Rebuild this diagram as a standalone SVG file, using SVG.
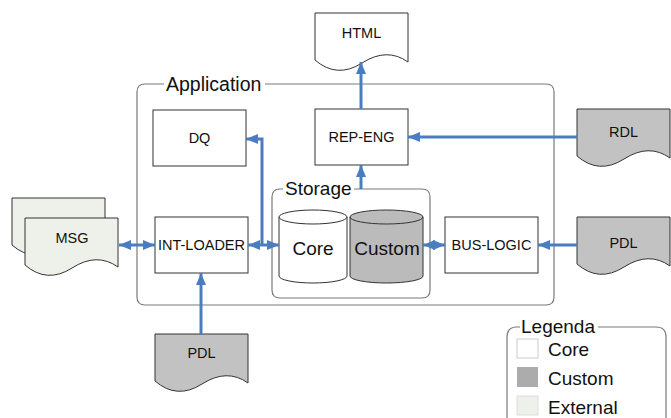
<svg xmlns="http://www.w3.org/2000/svg" width="671" height="418" viewBox="0 0 671 418">
<style>
.frame{fill:none;stroke:#7a7a7a;stroke-width:1.2}
.box{fill:#fff;stroke:#333;stroke-width:1}
.doc{stroke:#333;stroke-width:1}
.ext{fill:#eef1ea}
.cus{fill:#c2c2c2}
.t{font-family:"Liberation Sans",Arial,sans-serif;font-size:14.5px;fill:#111;text-anchor:middle}
.big{font-family:"Liberation Sans",Arial,sans-serif;font-size:19px;fill:#111}
.cyl{font-family:"Liberation Sans",Arial,sans-serif;font-size:19px;fill:#111;text-anchor:middle}
.c{fill:none;stroke:#4a7cc2;stroke-width:3}
</style>
<defs>
<marker id="ah" markerUnits="userSpaceOnUse" markerWidth="13" markerHeight="11" refX="12" refY="5" orient="auto-start-reverse" viewBox="0 0 13 11">
<path d="M0,0 L12,5 L0,10 z" fill="#4a7cc2"/>
</marker>
<path id="docshape" d="M0,0 H93 V49 Q72,34 47,50 Q22,66 0,47 Z"/>
</defs>

<g id="application">
<path class="frame" d="M164,84 H145 Q137,84 137,92 V297 Q137,305 145,305 H546 Q554,305 554,297 V92 Q554,84 546,84 H265"/>
<text class="big" x="166" y="91" style="font-size:19.5px">Application</text>
</g>

<g id="storage">
<path class="frame" d="M283,189 H280 Q272,189 272,197 V290 Q272,298 280,298 H422 Q430,298 430,290 V197 Q430,189 422,189 H354"/>
<text class="big" x="285" y="195">Storage</text>
</g>

<g id="core">
<path class="box" d="M279,217 V276 A34,7 0 0 0 347,276 V217 A34,7 0 0 0 279,217 Z"/>
<path class="box" d="M279,217 A34,7 0 0 0 347,217"/>
<text class="cyl" x="313" y="255">Core</text>
</g>

<g id="custom">
<path class="box" style="fill:#bbbbbb" d="M350,217 V276 A36.5,7 0 0 0 423,276 V217 A36.5,7 0 0 0 350,217 Z"/>
<path class="box" style="fill:none" d="M350,217 A36.5,7 0 0 0 423,217"/>
<text class="cyl" x="387" y="255">Custom</text>
</g>

<g id="dq">
<rect class="box" x="153" y="110" width="93" height="56"/>
<text class="t" x="199.5" y="143">DQ</text>
</g>

<g id="rep-eng">
<rect class="box" x="315" y="109" width="93" height="56"/>
<text class="t" x="361.5" y="142">REP-ENG</text>
</g>

<g id="int-loader">
<rect class="box" x="155" y="217" width="93" height="56"/>
<text class="t" x="201.5" y="250">INT-LOADER</text>
</g>

<g id="bus-logic">
<rect class="box" x="445" y="217" width="93" height="56"/>
<text class="t" x="491.5" y="250">BUS-LOGIC</text>
</g>

<g id="html">
<use href="#docshape" class="doc" fill="#fff" x="315" y="13"/>
<text class="t" x="361.5" y="38">HTML</text>
</g>

<g id="rdl">
<use href="#docshape" class="doc cus" x="577" y="109"/>
<text class="t" x="623.5" y="137">RDL</text>
</g>

<g id="pdl-right">
<use href="#docshape" class="doc cus" x="577" y="217"/>
<text class="t" x="623.5" y="248">PDL</text>
</g>

<g id="pdl-bottom">
<use href="#docshape" class="doc cus" x="155" y="334"/>
<text class="t" x="201.5" y="358">PDL</text>
</g>

<g id="msg">
<use href="#docshape" class="doc ext" x="12" y="198"/>
<use href="#docshape" class="doc ext" x="25" y="218"/>
<text class="t" x="72" y="243">MSG</text>
</g>

<g id="connectors">
<line class="c" x1="361" y1="109" x2="361" y2="62" marker-end="url(#ah)"/>
<line class="c" x1="361" y1="189" x2="361" y2="165" marker-end="url(#ah)"/>
<line class="c" x1="577" y1="137" x2="408" y2="137" marker-end="url(#ah)"/>
<line class="c" x1="119" y1="245" x2="155" y2="245" marker-start="url(#ah)" marker-end="url(#ah)"/>
<line class="c" x1="248" y1="245" x2="279" y2="245" marker-start="url(#ah)" marker-end="url(#ah)"/>
<polyline class="c" points="262,245 262,139 246,139" marker-end="url(#ah)"/>
<line class="c" x1="423" y1="245" x2="445" y2="245" marker-start="url(#ah)" marker-end="url(#ah)"/>
<line class="c" x1="577" y1="245" x2="538" y2="245" marker-end="url(#ah)"/>
<line class="c" x1="201" y1="334" x2="201" y2="273" marker-end="url(#ah)"/>
</g>

<g id="legenda">
<path class="frame" d="M520,327 H517 Q507,327 507,337 V418 M598,327 H656 Q666,327 666,337 V418"/>
<text class="big" x="521" y="333">Legenda</text>
<rect x="517" y="339" width="21" height="19" fill="#fff" stroke="#ccc"/>
<text class="big" x="548" y="356">Core</text>
<rect x="517" y="367" width="21" height="20" fill="#acacac"/>
<text class="big" x="548" y="385">Custom</text>
<rect x="517" y="396" width="21" height="19" fill="#eef1ea" stroke="#ddd"/>
<text class="big" x="548" y="414">External</text>
</g>
</svg>
